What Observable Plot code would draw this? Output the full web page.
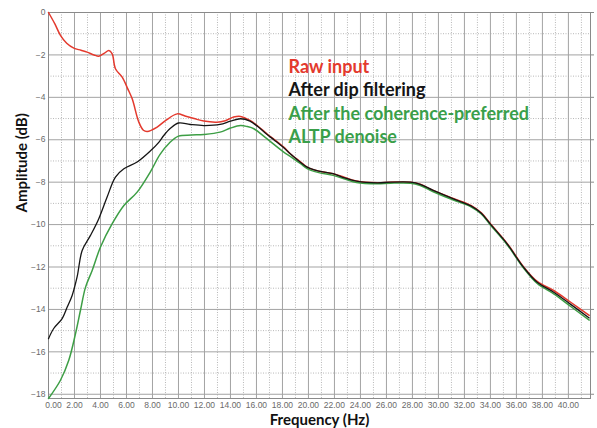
<!DOCTYPE html>
<html>
<head>
<meta charset="utf-8">
<script src="https://cdn.jsdelivr.net/npm/d3@7"></script>
<script src="https://cdn.jsdelivr.net/npm/@observablehq/plot@0.6"></script>
<style>
  html, body { margin: 0; padding: 0; background: #fff; }
</style>
</head>
<body>
<div id="chart"></div>
<script>
// Raw input (red)
const rawFreq = [0, 0.5, 0.92, 1.4, 1.95, 2.5, 2.97, 3.5, 3.87, 4.3, 4.64, 4.9, 5.15, 5.67, 6.1, 6.44, 6.95, 7.3, 7.6, 8.36, 9.0, 9.9, 10.5, 11.2, 11.95, 12.97, 13.6, 14.25, 14.77, 15.5, 16.1, 16.8, 17.4, 18.1, 18.6, 19.4, 19.9, 20.8, 21.9, 22.8, 23.7, 25.3, 26.3, 27.85, 28.6, 29.6, 31.2, 32.5, 33.3, 34.0, 35.3, 36.56, 37.6, 38.9, 40.15, 41.6];
const rawAmp  = [0, -0.55, -1.08, -1.45, -1.68, -1.78, -1.87, -2.0, -2.06, -1.92, -1.79, -1.95, -2.65, -3.05, -3.6, -4.07, -5.17, -5.55, -5.61, -5.4, -5.1, -4.78, -4.88, -5.0, -5.12, -5.17, -5.1, -4.93, -4.9, -5.09, -5.35, -5.72, -6.0, -6.35, -6.66, -7.05, -7.29, -7.48, -7.6, -7.78, -7.95, -8.03, -8.0, -8.0, -8.1, -8.39, -8.78, -9.1, -9.45, -9.96, -10.9, -12.0, -12.68, -13.12, -13.65, -14.28];

// After dip filtering (black)
const dipFreq = [0, 0.4, 1.05, 1.44, 1.82, 2.2, 2.59, 3.23, 3.87, 4.51, 5.15, 5.8, 6.82, 7.85, 8.5, 8.87, 9.4, 10.0, 10.9, 11.95, 13.2, 14.0, 14.77, 15.5, 16.1, 16.8, 17.4, 18.1, 18.6, 19.4, 19.9, 20.8, 21.9, 22.8, 23.7, 25.3, 26.3, 27.85, 28.6, 29.6, 31.2, 32.5, 33.3, 34.0, 35.3, 36.56, 37.6, 38.9, 40.15, 41.6];
const dipAmp  = [-15.38, -14.9, -14.43, -13.89, -13.34, -12.47, -11.22, -10.51, -9.72, -8.7, -7.76, -7.37, -7.05, -6.52, -6.11, -5.8, -5.45, -5.21, -5.28, -5.33, -5.28, -5.12, -5.01, -5.12, -5.38, -5.74, -6.03, -6.38, -6.66, -7.07, -7.29, -7.48, -7.6, -7.8, -7.95, -8.03, -8.0, -8.0, -8.1, -8.39, -8.8, -9.12, -9.47, -9.98, -10.92, -12.02, -12.72, -13.2, -13.75, -14.4];

// After the coherence-preferred ALTP denoise (green)
const altpFreq = [0, 0.92, 1.56, 2.08, 2.46, 2.85, 3.36, 4.0, 4.9, 5.8, 6.82, 7.85, 8.57, 9.3, 10.0, 11.0, 11.95, 13.2, 14.0, 14.77, 15.3, 15.8, 16.8, 18.1, 18.6, 19.4, 19.9, 20.8, 21.9, 22.8, 23.7, 25.3, 26.3, 27.85, 28.6, 29.6, 31.2, 32.5, 33.3, 34.0, 35.3, 36.56, 37.6, 38.9, 40.15, 41.6];
const altpAmp  = [-18.2, -17.34, -16.4, -15.14, -14.04, -12.95, -12.16, -11.06, -9.96, -9.1, -8.47, -7.5, -6.7, -6.15, -5.83, -5.78, -5.75, -5.64, -5.45, -5.33, -5.38, -5.48, -5.95, -6.58, -6.78, -7.13, -7.36, -7.55, -7.68, -7.85, -8.02, -8.08, -8.05, -8.05, -8.16, -8.45, -8.85, -9.16, -9.5, -10.02, -10.96, -12.06, -12.78, -13.28, -13.85, -14.5];

const seriesNames = ["Raw input", "After dip filtering", "After the coherence-preferred", "ALTP denoise"];
const seriesColors = ["#e3392d", "#151515", "#3d9e45"];
const legendColors = ["#e3392d", "#151515", "#3a9f4a", "#3a9f4a"];

const xTicks = d3.range(0, 41, 2);
const yTicks = d3.range(-18, 1, 2);
const xMinor = d3.range(1, 42, 2);
const yMinor = d3.range(-17, 0, 2);

const toRows = (fs, as, name) => fs.map((f, i) => ({freq: f, amp: as[i], series: name}));
const raw = toRows(rawFreq, rawAmp, "raw");
const dip = toRows(dipFreq, dipAmp, "dip");
const altp = toRows(altpFreq, altpAmp, "altp");

const tickFont = "'Liberation Sans Narrow', 'Liberation Sans', sans-serif";
const legendFont = "Lato, 'Open Sans', sans-serif";

const chart = Plot.plot({
  width: 597,
  height: 428,
  marginLeft: 48,
  marginTop: 12,
  marginRight: 7,
  marginBottom: 30,
  style: {background: "#fff", fontFamily: tickFont},
  x: {domain: [0, 41.7]},
  y: {domain: [-18.2, 0]},
  marks: [
    Plot.gridX(xMinor, {stroke: "#b8b8b8", strokeOpacity: 1, strokeDasharray: "1,1.5"}),
    Plot.gridY(yMinor, {stroke: "#b8b8b8", strokeOpacity: 1, strokeDasharray: "1,1.5"}),
    Plot.gridX(xTicks, {stroke: "#a3a3a3", strokeOpacity: 1}),
    Plot.gridY(yTicks, {stroke: "#a3a3a3", strokeOpacity: 1}),
    Plot.frame({stroke: "#8a8a8a"}),
    Plot.axisX(xTicks.filter(d => d > 0), {tickSize: 0, tickPadding: 3, fontSize: 8.5, fill: "#6a6a6a", tickFormat: d3.format(".2f"), label: null, fontFamily: tickFont}),
    Plot.axisX([0], {tickSize: 0, tickPadding: 3, fontSize: 8.5, fill: "#6a6a6a", tickFormat: d3.format(".2f"), label: null, dx: 5, fontFamily: tickFont}),
    Plot.axisY(yTicks, {tickSize: 0, tickPadding: 3, fontSize: 8.5, fill: "#6a6a6a", label: null, fontFamily: tickFont}),
    Plot.axisY(yTicks, {anchor: "right", tickSize: 3, stroke: "#8a8a8a", tickFormat: () => "", label: null}),
    Plot.line(raw, {x: "freq", y: "amp", stroke: seriesColors[0], strokeWidth: 1.5, curve: "catmull-rom"}),
    Plot.line(altp, {x: "freq", y: "amp", stroke: seriesColors[2], strokeWidth: 1.5, curve: "catmull-rom"}),
    Plot.line(dip, {x: "freq", y: "amp", stroke: seriesColors[1], strokeWidth: 1.3, curve: "catmull-rom"}),
    ...seriesNames.map((name, i) => Plot.text([name], {
      text: d => d, frameAnchor: "top-left", dx: 240, dy: 60 + i * 23.5,
      lineAnchor: "bottom", textAnchor: "start", fill: legendColors[i],
      fontSize: 18, fontWeight: "bold", fontFamily: legendFont
    })),
    Plot.text(["Frequency (Hz)"], {text: d => d, frameAnchor: "bottom", dy: 22, lineAnchor: "middle", fontSize: 15, fontWeight: "bold", fill: "#111", fontFamily: legendFont}),
    Plot.text(["Amplitude (dB)"], {text: d => d, frameAnchor: "left", dx: -26, dy: 7, rotate: -90, lineAnchor: "middle", fontSize: 15, fontWeight: "bold", fill: "#111", fontFamily: legendFont})
  ]
});
document.getElementById("chart").appendChild(chart);
</script>
</body>
</html>
